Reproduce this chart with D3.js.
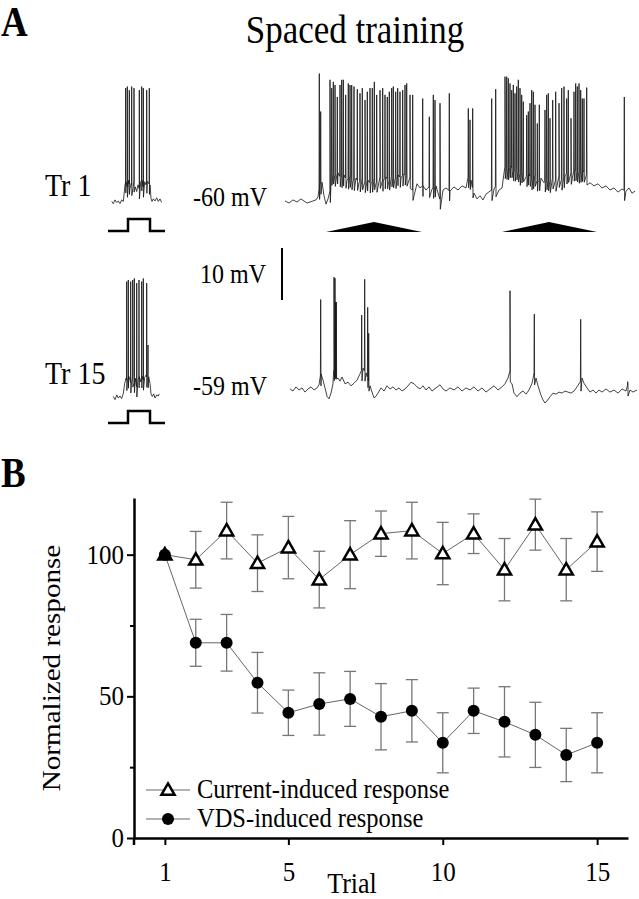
<!DOCTYPE html>
<html>
<head>
<meta charset="utf-8">
<script src="https://cdn.jsdelivr.net/npm/d3@7"></script>
<style>
  body { margin: 0; background: #fff; }
  svg { display: block; }
</style>
</head>
<body>
<script>
// ---- Panel A data (time in s for the long traces, ms for the short ones, voltage in mV) ----

// Tr 1, ramp (VDS) stimulation
const tr1LongEnvelope = [[0.0,-59.8],[0.4,-60.2],[0.8,-59.6],[1.2,-60.0],[1.6,-59.4],[1.9,-59.8],[2.2,-60.2],[2.5,-60.0],[2.8,-59.8],[3.1,-59.6],[3.3,-59.0],[3.5,-56.7],[3.7,-56.2],[3.9,-58.8],[4.1,-60.4],[4.3,-59.4],[4.5,-58.1],[4.7,-54.2],[5.0,-55.0],[5.3,-54.4],[5.6,-55.4],[5.9,-54.8],[6.2,-55.8],[6.5,-55.2],[6.8,-56.0],[7.1,-55.4],[7.4,-56.3],[7.7,-55.6],[8.0,-56.2],[8.3,-55.8],[8.6,-56.5],[8.9,-55.6],[9.2,-56.2],[9.5,-55.4],[9.8,-56.0],[10.1,-55.2],[10.4,-55.8],[10.7,-55.0],[11.0,-55.6],[11.3,-54.8],[11.6,-55.4],[11.9,-54.6],[12.2,-55.0],[12.5,-55.4],[12.9,-58.8],[13.2,-56.5],[13.5,-57.3],[13.8,-56.9],[14.1,-57.7],[14.4,-57.1],[14.7,-57.5],[15.1,-56.9],[15.5,-59.4],[15.8,-57.7],[16.1,-57.3],[16.5,-57.9],[16.9,-57.1],[17.3,-57.7],[17.7,-56.9],[18.1,-57.3],[18.3,-55.2],[18.6,-55.8],[18.9,-58.3],[19.2,-59.4],[19.5,-58.8],[19.8,-59.6],[20.1,-58.5],[20.5,-57.9],[20.9,-57.5],[21.1,-56.9],[21.4,-57.7],[21.7,-57.3],[22.0,-53.5],[22.3,-53.8],[22.6,-53.1],[22.9,-54.2],[23.2,-53.7],[23.5,-54.8],[23.8,-54.0],[24.1,-55.2],[24.4,-54.6],[24.7,-55.8],[25.0,-55.0],[25.3,-56.2],[25.6,-55.4],[25.9,-56.3],[26.2,-55.6],[26.5,-56.2],[26.8,-55.4],[27.1,-56.0],[27.4,-55.2],[27.7,-55.8],[28.0,-55.0],[28.3,-54.2],[28.6,-54.6],[29.0,-53.8],[29.4,-54.4],[29.8,-54.0],[30.2,-54.8],[30.5,-56.3],[30.9,-56.9],[31.3,-56.5],[31.7,-57.3],[32.1,-56.9],[32.5,-57.7],[32.9,-57.3],[33.3,-58.1],[33.7,-57.5],[34.1,-57.9],[34.4,-57.3],[34.7,-58.3],[35.0,-57.9]];
const tr1LongSpikeTimes = [3.43,3.57,4.50,4.67,4.83,5.00,5.23,5.50,5.67,5.83,6.07,6.33,6.50,6.67,6.90,7.23,7.50,7.73,8.00,8.23,8.50,8.73,8.93,9.17,9.50,9.77,10.00,10.23,10.43,10.67,10.83,11.07,11.27,11.50,11.77,12.00,12.17,12.50,12.77,13.77,14.43,14.83,15.00,15.50,16.43,18.33,18.50,18.77,20.67,21.07,22.00,22.17,22.33,22.50,22.67,22.83,23.00,23.17,23.33,23.50,23.67,23.83,24.17,24.33,24.50,24.67,24.83,25.00,25.23,25.43,26.00,26.17,26.33,26.50,26.77,27.07,27.40,27.67,27.90,28.17,28.33,28.60,28.90,29.07,29.23,29.40,29.57,29.73,29.90,30.17,33.93];
const tr1LongSpikePeaks = [-35.3,-42.6,-36.5,-38.1,-36.9,-37.5,-39.8,-37.5,-36.5,-36.5,-39.4,-37.2,-37.5,-37.5,-37.8,-38.3,-39.1,-38.1,-40.4,-38.8,-38.1,-38.1,-36.9,-39.4,-38.5,-38.1,-39.4,-39.8,-38.8,-38.1,-37.8,-38.8,-38.1,-38.8,-38.5,-37.5,-37.2,-39.4,-39.4,-40.1,-43.6,-39.4,-40.4,-41.0,-39.1,-42.0,-44.2,-42.0,-40.1,-38.3,-35.9,-35.9,-36.2,-37.2,-38.5,-37.5,-39.1,-37.8,-36.5,-38.1,-39.4,-40.7,-43.3,-42.6,-41.0,-38.5,-38.8,-41.3,-44.9,-41.3,-42.3,-39.4,-39.1,-43.9,-40.4,-38.8,-41.0,-38.1,-37.8,-40.1,-38.5,-43.9,-38.8,-37.2,-37.8,-37.2,-38.5,-40.1,-40.1,-38.0,-39.8];

// Tr 15, ramp (VDS) stimulation
const tr15LongEnvelope = [[0.5,-58.8],[0.8,-59.2],[1.1,-58.4],[1.4,-59.0],[1.7,-58.6],[2.0,-59.4],[2.3,-58.8],[2.6,-58.4],[2.9,-59.0],[3.2,-58.6],[3.4,-58.0],[3.6,-55.9],[3.8,-57.1],[4.0,-58.6],[4.2,-60.2],[4.4,-60.7],[4.6,-59.6],[4.8,-57.8],[4.9,-55.2],[5.1,-54.6],[5.3,-56.7],[5.5,-57.3],[5.7,-56.5],[6.0,-57.8],[6.3,-57.5],[6.6,-58.2],[6.9,-57.7],[7.2,-57.1],[7.5,-55.9],[7.8,-54.8],[8.1,-55.7],[8.3,-56.7],[8.5,-58.2],[8.7,-59.4],[8.9,-60.5],[9.1,-60.2],[9.3,-59.6],[9.6,-58.6],[9.9,-59.2],[10.2,-58.2],[10.5,-58.8],[10.8,-58.4],[11.1,-59.0],[11.4,-58.6],[11.7,-59.2],[12.0,-58.8],[12.3,-58.2],[12.6,-57.5],[12.9,-57.8],[13.2,-58.4],[13.5,-58.8],[13.8,-58.2],[14.1,-59.0],[14.4,-58.4],[14.7,-59.2],[15.1,-58.6],[15.5,-58.0],[15.8,-58.8],[16.1,-59.2],[16.5,-58.6],[16.9,-59.0],[17.3,-58.4],[17.7,-59.2],[18.1,-58.6],[18.5,-59.0],[18.9,-58.4],[19.3,-59.2],[19.7,-58.6],[20.1,-59.4],[20.5,-58.8],[20.9,-58.2],[21.3,-59.0],[21.7,-58.4],[22.0,-57.8],[22.3,-56.7],[22.5,-55.5],[22.7,-57.8],[22.9,-59.6],[23.2,-60.3],[23.5,-59.6],[23.8,-59.2],[24.1,-59.8],[24.4,-59.0],[24.7,-57.7],[24.9,-55.9],[25.1,-56.7],[25.3,-58.2],[25.6,-60.0],[25.8,-60.9],[26.0,-61.5],[26.2,-61.1],[26.5,-60.3],[26.8,-59.6],[27.1,-59.8],[27.4,-59.4],[27.7,-59.6],[28.0,-59.2],[28.3,-59.4],[28.6,-59.6],[28.9,-59.2],[29.2,-58.4],[29.5,-57.5],[29.7,-56.7],[29.9,-57.7],[30.2,-58.6],[30.5,-59.4],[30.8,-59.0],[31.1,-59.6],[31.4,-59.0],[31.7,-59.4],[32.1,-58.8],[32.5,-59.4],[32.9,-59.0],[33.3,-59.6],[33.7,-58.8],[34.1,-59.2],[34.3,-58.0],[34.5,-59.0],[34.8,-59.4],[35.2,-59.0]];
const tr15LongSpikeTimes = [3.57,4.90,5.00,5.07,5.13,7.67,7.97,8.27,8.37,22.50,24.93,29.57,34.27];
const tr15LongSpikePeaks = [-41.6,-37.3,-37.5,-42.1,-42.1,-44.6,-37.7,-43.1,-48.1,-39.9,-44.4,-45.4,-57.4];

// short current-step responses (ms)
const tr1ShortEnvelope = [[37,-59.9],[53,-60.3],[70,-59.6],[87,-60.1],[103,-59.8],[120,-60.3],[137,-59.6],[153,-59.9],[170,-56.7],[180,-56.1],[193,-57.1],[207,-55.8],[220,-57.4],[233,-56.4],[247,-57.7],[260,-56.1],[273,-57.1],[287,-58.0],[300,-56.7],[313,-57.4],[327,-56.1],[340,-55.8],[353,-57.1],[367,-56.1],[380,-56.7],[393,-56.0],[407,-56.4],[420,-56.7],[430,-59.3],[440,-59.9],[453,-59.4],[470,-59.8],[487,-59.2],[503,-59.9],[520,-59.4],[537,-60.1]];
const tr1ShortSpikeTimes = [177,193,213,237,260,313,337,353,387,413];
const tr1ShortSpikePeaks = [-38.1,-37.8,-38.5,-37.8,-38.1,-38.5,-37.8,-38.1,-38.5,-38.1];

const tr15ShortEnvelope = [[53,-58.9],[70,-59.5],[87,-58.6],[103,-59.2],[120,-58.8],[137,-59.3],[153,-58.3],[167,-56.4],[180,-55.4],[193,-56.1],[207,-55.0],[220,-55.7],[233,-56.7],[247,-55.1],[260,-56.4],[273,-55.4],[287,-57.0],[300,-55.7],[313,-55.1],[327,-56.1],[340,-55.0],[353,-55.7],[367,-55.2],[380,-54.8],[393,-55.4],[407,-55.1],[420,-56.4],[430,-58.4],[443,-58.9],[457,-58.4],[470,-59.2],[487,-58.6],[503,-58.8],[513,-58.4]];
const tr15ShortSpikeTimes = [187,203,227,247,263,287,310,337,353,387,400];
const tr15ShortSpikePeaks = [-36.8,-36.5,-36.8,-36.5,-36.2,-37.1,-36.5,-36.8,-36.2,-37.1,-49.0];

// stimulus protocols
const stepTimes = [0, 200, 200, 420, 420, 570];
const stepLevels = [0, 0, 1, 1, 0, 0];
const rampTimes = [[4.1, 8.9, 13.7], [21.7, 26.4, 31.2]];

// ---- Panel B data ----
const trials = [1, 2, 3, 4, 5, 6, 7, 8, 9, 10, 11, 12, 13, 14, 15];
const currentMean = [100, 98.2, 108.5, 97, 102.5, 91.2, 100, 107.4, 108.5, 100.4, 107.4, 94.7, 110.6, 94.7, 104.6];
const currentErr = [0, 10, 10, 10, 11, 10, 12, 8, 10, 11, 7, 11, 9, 11, 10.5];
const vdsMean = [100, 68.9, 68.9, 54.8, 44.2, 47.3, 49.1, 42.8, 44.9, 33.6, 44.9, 41, 36.4, 29.3, 33.6];
const vdsErr = [0, 8.3, 10, 10.7, 8, 11, 9.7, 11.7, 11, 10.6, 8, 12.4, 11.5, 9.4, 10.6];
const xTicks = [1, 5, 10, 15];
const yTicks = [0, 50, 100];
const yMinorTicks = [25, 75];
const legendLabels = ["Current-induced response", "VDS-induced response"];

const FONT = "'Liberation Serif', 'Times New Roman', serif";
const STRETCH = 1.12; // the figure's lettering is a bit taller than wide

const svg = d3.select("body").append("svg").attr("width", 639).attr("height", 899);

function addLabel(g, text, x, y, size, opts = {}) {
    return g.append("text")
        .attr("transform", `translate(${x},${y}) scale(1,${STRETCH})`)
        .attr("text-anchor", opts.anchor || "start")
        .style("font-family", FONT)
        .style("font-size", size + "px")
        .style("font-weight", opts.bold ? "bold" : "normal")
        .style("fill", "#000")
        .text(text);
}

// merge the slow envelope with fast spikes into one ordered list of samples
function tracePoints(envelope, spikeTimes, spikePeaks, dt) {
    const envAt = d3.scaleLinear().domain(envelope.map(d => d[0])).range(envelope.map(d => d[1]));
    const pts = envelope.map(d => ({ t: d[0], v: d[1] }));
    spikeTimes.forEach((t, i) => {
        const base = envAt(t);
        pts.push({ t: t - dt, v: base });
        pts.push({ t: t, v: spikePeaks[i] });
        pts.push({ t: t + dt, v: base - 2 });
    });
    pts.sort((a, b) => a.t - b.t);
    return pts;
}

function drawTrace(g, pts, x, y) {
    const line = d3.line().x(d => x(d.t)).y(d => y(d.v));
    g.append("path")
        .datum(pts)
        .attr("d", line)
        .attr("fill", "none")
        .attr("stroke", "#111")
        .attr("stroke-width", 0.8)
        .attr("stroke-linejoin", "round");
}

function drawStep(g, x, y) {
    const line = d3.line().x((d, i) => x(stepTimes[i])).y(d => y(d));
    g.append("path")
        .datum(stepLevels)
        .attr("d", line)
        .attr("fill", "none")
        .attr("stroke", "#000")
        .attr("stroke-width", 2.5);
}

function drawRamps(g, x, y) {
    g.selectAll(".ramp")
        .data(rampTimes)
        .enter()
        .append("path")
        .attr("class", "ramp")
        .attr("d", d => `M${x(d[0])},${y(0)}L${x(d[1])},${y(1)}L${x(d[2])},${y(0)}Z`)
        .attr("fill", "#000");
}

function drawPanelA() {
    const g = svg.append("g");

    addLabel(g, "A", 1, 36, 37, { bold: true });
    addLabel(g, "Spaced training", 355, 43, 35, { anchor: "middle" });

    const xLong = d3.scaleLinear().domain([0, 35]).range([285, 635]);
    const xShort = d3.scaleLinear().domain([0, 570]).range([108, 165]);

    // row 1 (Tr 1)
    const yTop = d3.scaleLinear().domain([-60, -40]).range([202, 98]);
    const yStepTop = d3.scaleLinear().domain([0, 1]).range([231, 219]);
    const yRampTop = d3.scaleLinear().domain([0, 1]).range([232, 222]);

    addLabel(g, "Tr 1", 45, 196, 28);
    addLabel(g, "-60 mV", 193, 206, 24);
    drawTrace(g, tracePoints(tr1ShortEnvelope, tr1ShortSpikeTimes, tr1ShortSpikePeaks, 1.5), xShort, yTop);
    drawStep(g, xShort, yStepTop);
    drawTrace(g, tracePoints(tr1LongEnvelope, tr1LongSpikeTimes, tr1LongSpikePeaks, 0.03), xLong, yTop);
    drawRamps(g, xLong, yRampTop);

    // scale bar, 10 mV
    const yBar = d3.scaleLinear().domain([0, 10]).range([300, 248]);
    g.append("line")
        .attr("x1", 282).attr("x2", 282)
        .attr("y1", yBar(0)).attr("y2", yBar(10))
        .attr("stroke", "#000").attr("stroke-width", 2);
    addLabel(g, "10 mV", 200, 283, 24);

    // row 2 (Tr 15)
    const yBottom = d3.scaleLinear().domain([-59, -39]).range([390, 286]);
    const yShortBottom = d3.scaleLinear().domain([-59, -39]).range([397, 293]);
    const yStepBottom = d3.scaleLinear().domain([0, 1]).range([423, 411]);
    const yRampBottom = d3.scaleLinear().domain([0, 1]).range([424, 414]);

    addLabel(g, "Tr 15", 45, 384, 28);
    addLabel(g, "-59 mV", 193, 395, 24);
    drawTrace(g, tracePoints(tr15ShortEnvelope, tr15ShortSpikeTimes, tr15ShortSpikePeaks, 1.5), xShort, yShortBottom);
    drawStep(g, xShort, yStepBottom);
    drawTrace(g, tracePoints(tr15LongEnvelope, tr15LongSpikeTimes, tr15LongSpikePeaks, 0.03), xLong, yBottom);
    drawRamps(g, xLong, yRampBottom);
}

function drawPanelB() {
    const g = svg.append("g");
    addLabel(g, "B", 1, 487, 37, { bold: true });

    const x = d3.scaleLinear().domain([0, 16]).range([134, 628]);
    const y = d3.scaleLinear().domain([0, 120]).range([838, 498]);

    // axes
    const yAxis = g.append("g")
        .attr("transform", `translate(${x(0)},0)`)
        .call(d3.axisLeft(y).tickValues(yTicks).tickSize(7).tickSizeOuter(0).tickPadding(3));
    g.append("g")
        .attr("transform", `translate(${x(0)},0)`)
        .call(d3.axisLeft(y).tickValues(yMinorTicks).tickSize(4).tickSizeOuter(0).tickFormat(""))
        .select(".domain").remove();
    g.append("g")
        .attr("transform", `translate(0,${y(0)})`)
        .call(d3.axisBottom(x).tickValues(xTicks).tickSize(7).tickSizeOuter(0).tickPadding(14));

    g.selectAll(".domain").attr("stroke", "#000").attr("stroke-width", 2.5);
    g.selectAll(".tick line").attr("stroke", "#000").attr("stroke-width", 2);
    g.selectAll(".tick text")
        .style("font-family", FONT)
        .style("font-size", "25px")
        .style("fill", "#000")
        .attr("transform", `scale(1,${STRETCH})`);
    yAxis.selectAll(".tick text").attr("dy", "0.3em");

    // y axis runs a little below the x axis
    g.append("line")
        .attr("x1", x(0)).attr("x2", x(0))
        .attr("y1", y(0)).attr("y2", y(0) + 7)
        .attr("stroke", "#000").attr("stroke-width", 2.5);

    addLabel(g, "Trial", 352, 893, 26, { anchor: "middle" });
    g.append("text")
        .attr("transform", `translate(60,668) rotate(-90) scale(${STRETCH},1)`)
        .attr("text-anchor", "middle")
        .style("font-family", FONT)
        .style("font-size", "26px")
        .text("Normalized response");

    const series = [
        { mean: currentMean, err: currentErr },
        { mean: vdsMean, err: vdsErr }
    ];

    // connecting lines
    series.forEach(s => {
        const line = d3.line().x((d, i) => x(trials[i])).y(d => y(d));
        g.append("path")
            .datum(s.mean)
            .attr("d", line)
            .attr("fill", "none")
            .attr("stroke", "#666")
            .attr("stroke-width", 1);
    });

    // error bars
    series.forEach(s => {
        const bars = g.append("g");
        trials.forEach((t, i) => {
            if (!s.err[i]) return;
            const cx = x(t);
            const top = y(s.mean[i] + s.err[i]);
            const bottom = y(s.mean[i] - s.err[i]);
            bars.append("line").attr("x1", cx).attr("x2", cx).attr("y1", top).attr("y2", bottom);
            bars.append("line").attr("x1", cx - 6).attr("x2", cx + 6).attr("y1", top).attr("y2", top);
            bars.append("line").attr("x1", cx - 6).attr("x2", cx + 6).attr("y1", bottom).attr("y2", bottom);
        });
        bars.selectAll("line").attr("stroke", "#777").attr("stroke-width", 1.3);
    });

    const triangle = d3.symbol().type(d3.symbolTriangle).size(75);

    // markers
    g.selectAll(".tri")
        .data(currentMean)
        .enter()
        .append("path")
        .attr("class", "tri")
        .attr("d", triangle)
        .attr("transform", (d, i) => `translate(${x(trials[i])},${y(d) + 1})`)
        .attr("fill", "#fff")
        .attr("stroke", "#000")
        .attr("stroke-width", 2.5);

    g.selectAll(".dot")
        .data(vdsMean)
        .enter()
        .append("circle")
        .attr("class", "dot")
        .attr("cx", (d, i) => x(trials[i]))
        .attr("cy", d => y(d))
        .attr("r", 6)
        .attr("fill", "#000");

    // legend
    const legendY = [790, 819];
    legendLabels.forEach((label, i) => {
        g.append("line")
            .attr("x1", 146).attr("x2", 190)
            .attr("y1", legendY[i]).attr("y2", legendY[i])
            .attr("stroke", "#666").attr("stroke-width", 1);
        if (i === 0) {
            g.append("path")
                .attr("d", triangle)
                .attr("transform", `translate(168,${legendY[i] + 1})`)
                .attr("fill", "#fff")
                .attr("stroke", "#000")
                .attr("stroke-width", 2.5);
        } else {
            g.append("circle")
                .attr("cx", 168).attr("cy", legendY[i]).attr("r", 6)
                .attr("fill", "#000");
        }
        addLabel(g, label, 197, legendY[i] + 8, 24.5);
    });
}

drawPanelA();
drawPanelB();
</script>
</body>
</html>
